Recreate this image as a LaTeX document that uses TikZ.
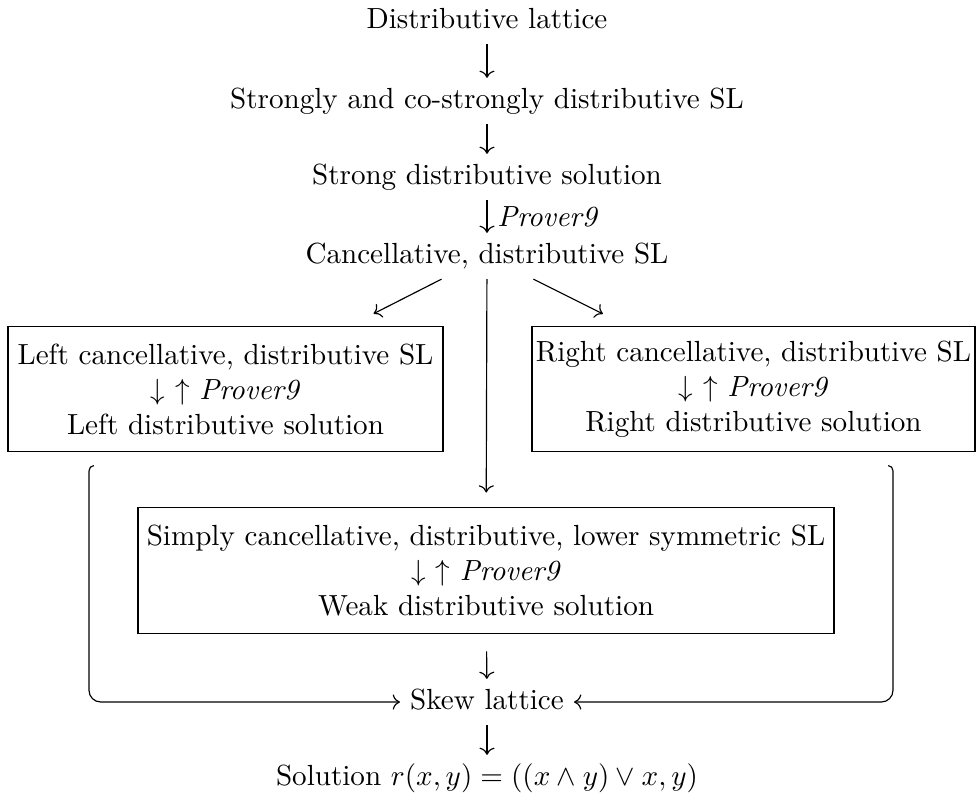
\documentclass[tikz,border=0pt]{standalone}
\usetikzlibrary{arrows.meta}
\begin{document}
\begin{tikzpicture}[
    x=0.3436pt, y=-0.3436pt,
    lbl/.style = {text height=1.6ex, text depth=.45ex},
    bx/.style = {draw, align=center, inner xsep=1pt, minimum height=43.2pt},
    hk/.style = {rounded corners=4pt},
  ]
  \useasboundingbox (0,0) rectangle (977,798);
  \node[lbl] (dl) at (487,21) {Distributive lattice};
  \node[lbl] (sc) at (487,101) {Strongly and co-strongly distributive SL};
  \node[lbl] (sds) at (487,177) {Strong distributive solution};
  \node[lbl] (cds) at (487,256) {Cancellative, distributive SL};
  \node[bx, minimum width=149.5pt] (lft) at (225.5,389)
    {Left cancellative, distributive SL\\ $\downarrow$ $\uparrow$ \textit{Prover9}\\ Left distributive solution};
  \node[bx, minimum width=152.2pt] (rgt) at (753.5,389)
    {Right cancellative, distributive SL\\ $\downarrow$ $\uparrow$ \textit{Prover9}\\ Right distributive solution};
  \node[bx, minimum width=239.1pt] (ctr) at (486,570.5)
    {Simply cancellative, distributive, lower symmetric SL\\ $\downarrow$ $\uparrow$ \textit{Prover9}\\ Weak distributive solution};
  \node[lbl] (sk) at (487,702) {Skew lattice};
  \node[lbl] (sol) at (487,778) {Solution $r(x,y) = ((x \wedge y) \vee x, y)$};
  \coordinate (lh) at (89,465);
  \coordinate (rh) at (893,465);

  \draw[->] (dl) -- (sc);
  \draw[->] (sc) -- (sds);
  \draw[->] (sds) -- node[right] {\textit{Prover9}} (cds);
  \draw[->, shorten >=9pt] (cds) -- (lft);
  \draw[->, shorten >=9pt] (cds) -- (rgt);
  \draw[->, shorten >=5pt] (cds) -- (ctr);
  \draw[->, shorten <=6pt] (ctr) -- (sk);
  \draw[->] (sk) -- (sol);
  \draw[hk, {Hooks[right, arc=90, width=7pt, length=2pt]}->] (lh) |- (sk);
  \draw[hk, {Hooks[left, arc=90, width=7pt, length=2pt]}->] (rh) |- (sk);
\end{tikzpicture}
\end{document}
